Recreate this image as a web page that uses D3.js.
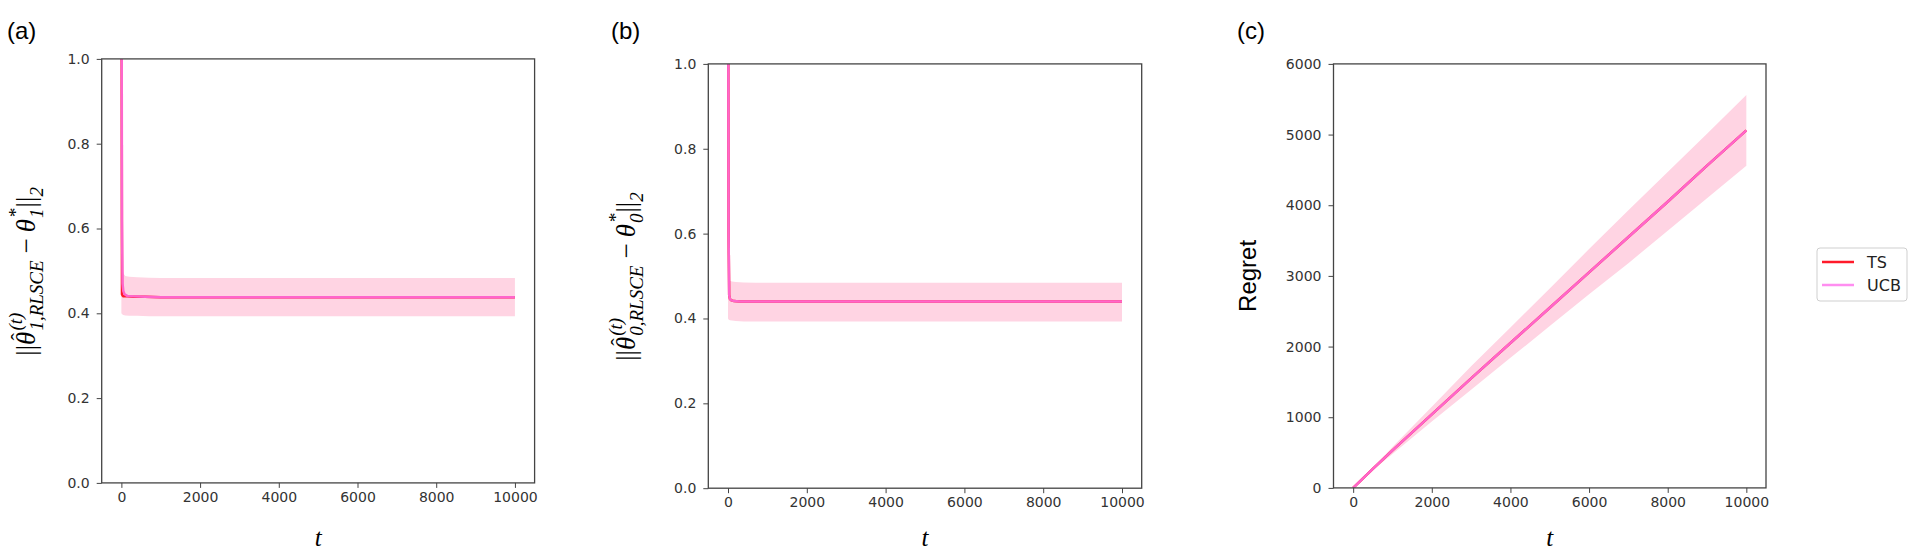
<!DOCTYPE html>
<html>
<head>
<meta charset="utf-8">
<script src="https://cdn.jsdelivr.net/npm/d3@7"></script>
<style>
  body { margin: 0; background: #fff; }
  svg { display: block; }
  .tick text { font-family: "DejaVu Sans", sans-serif; font-size: 14px; fill: #333; }
  .tick line, .domain { stroke: #444; }
</style>
</head>
<body>
<svg id="chart" width="1920" height="558"></svg>
<script>
// ---- data ----
const xTicks = [0, 2000, 4000, 6000, 8000, 10000];
const yTicksErr = [0, 0.2, 0.4, 0.6, 0.8, 1.0];
const yTicksRegret = [0, 1000, 2000, 3000, 4000, 5000, 6000];

// (a) estimation error, treatment arm 1
const tBandA = [0, 20, 50, 100, 200, 400, 700, 1000, 2000, 4000, 6000, 8000, 10000];
const hiA = [0.52, 0.51, 0.494, 0.488, 0.486, 0.485, 0.484, 0.483, 0.483, 0.483, 0.483, 0.483, 0.483];
const loA = [0.40, 0.398, 0.396, 0.395, 0.394, 0.394, 0.393, 0.393, 0.393, 0.393, 0.393, 0.393, 0.393];
const tMeanA = [0, 15, 30, 50, 80, 150, 300, 600, 1000, 3000, 6000, 10000];
const ucbA = [1.6, 0.62, 0.47, 0.452, 0.445, 0.441, 0.44, 0.439, 0.438, 0.438, 0.438, 0.438];
const tsA = [1.6, 0.445, 0.442, 0.44, 0.44, 0.44, 0.439, 0.439, 0.438, 0.438, 0.438, 0.438];

// (b) estimation error, arm 0
const tBandB = [0, 20, 50, 100, 200, 400, 700, 1000, 2000, 4000, 6000, 8000, 10000];
const hiB = [0.50, 0.492, 0.489, 0.487, 0.486, 0.485, 0.484, 0.484, 0.484, 0.484, 0.484, 0.484, 0.484];
const loB = [0.40, 0.397, 0.396, 0.395, 0.394, 0.393, 0.393, 0.393, 0.393, 0.393, 0.393, 0.393, 0.393];
const tMeanB = [0, 15, 30, 50, 80, 150, 300, 600, 1000, 3000, 6000, 10000];
const ucbB = [1.6, 0.6, 0.455, 0.446, 0.443, 0.441, 0.44, 0.44, 0.44, 0.44, 0.44, 0.44];
const tsB = [1.6, 0.6, 0.455, 0.446, 0.443, 0.441, 0.44, 0.44, 0.44, 0.44, 0.44, 0.44];

// (c) cumulative regret
const tC = [0, 500, 1000, 2000, 3000, 4000, 5000, 6000, 7000, 8000, 9000, 10000];
const ucbC = [0, 270, 530, 1040, 1550, 2050, 2550, 3050, 3550, 4050, 4560, 5060];
const tsC = [0, 270, 530, 1040, 1550, 2050, 2550, 3050, 3550, 4050, 4560, 5060];
const hiC = [0, 290, 580, 1150, 1720, 2270, 2820, 3380, 3930, 4470, 5010, 5560];
const loC = [0, 250, 480, 940, 1390, 1840, 2290, 2740, 3180, 3640, 4100, 4560];

const legendNames = ['TS', 'UCB'];
const legendColors = ['#ff1a2a', '#ff8ef0'];

const lineColor = '#ff66cc';
const bandColor = '#ffd4e3';

const svg = d3.select('#chart');

const panels = [
  { id: 'a', label: '(a)', lx: 7, box: [101.7, 534.6, 58.9, 482.9], yDom: [0, 1], yTicks: yTicksErr, fmt: d3.format('.1f'),
    tBand: tBandA, hi: hiA, lo: loA, tMean: tMeanA, ucb: ucbA, ts: tsA, ylab: { cx: 27, sub: '1,RLSCE', sub2: '1' } },
  { id: 'b', label: '(b)', lx: 611, box: [708.3, 1141.7, 63.9, 488.2], yDom: [0, 1], yTicks: yTicksErr, fmt: d3.format('.1f'),
    tBand: tBandB, hi: hiB, lo: loB, tMean: tMeanB, ucb: ucbB, ts: tsB, ylab: { cx: 627, sub: '0,RLSCE', sub2: '0' } },
  { id: 'c', label: '(c)', lx: 1237, box: [1333.5, 1766, 63.9, 487.9], yDom: [0, 6000], yTicks: yTicksRegret, fmt: d3.format('d'),
    tBand: tC, hi: hiC, lo: loC, tMean: tC, ucb: ucbC, ts: tsC, ylab: null }
];

panels.forEach(p => {
  const [x0, x1, y0, y1] = p.box;
  const x = d3.scaleLinear().domain([-500, 10500]).range([x0, x1]);
  const y = d3.scaleLinear().domain(p.yDom).range([y1, y0]);

  svg.append('clipPath').attr('id', 'clip-' + p.id)
    .append('rect').attr('x', x0).attr('y', y0).attr('width', x1 - x0).attr('height', y1 - y0);

  const plot = svg.append('g').attr('clip-path', `url(#clip-${p.id})`);

  const area = d3.area()
    .x((d, i) => x(p.tBand[i]))
    .y0((d, i) => y(p.lo[i]))
    .y1((d, i) => y(p.hi[i]));
  plot.append('path').datum(p.hi).attr('d', area).attr('fill', bandColor);

  const line = d3.line().x((d, i) => x(p.tMean[i])).y(d => y(d));
  plot.append('path').datum(p.ts).attr('d', line)
    .attr('fill', 'none').attr('stroke', legendColors[0]).attr('stroke-width', 2.5);
  plot.append('path').datum(p.ucb).attr('d', line)
    .attr('fill', 'none').attr('stroke', lineColor).attr('stroke-width', 2.5);

  // frame
  svg.append('rect').attr('x', x0).attr('y', y0).attr('width', x1 - x0).attr('height', y1 - y0)
    .attr('fill', 'none').attr('stroke', '#444').attr('stroke-width', 1.3);

  svg.append('g').attr('transform', `translate(0,${y1})`)
    .call(d3.axisBottom(x).tickValues(xTicks).tickSize(5).tickPadding(4).tickFormat(d3.format('d')))
    .call(g => g.select('.domain').remove());
  svg.append('g').attr('transform', `translate(${x0},0)`)
    .call(d3.axisLeft(y).tickValues(p.yTicks).tickSize(5).tickPadding(7).tickFormat(p.fmt))
    .call(g => g.select('.domain').remove());

  // panel letter
  svg.append('text').attr('x', p.lx).attr('y', 39)
    .attr('font-family', 'Liberation Sans, Arial, sans-serif').attr('font-size', 24).text(p.label);

  // x label
  svg.append('text').attr('x', (x(0) + x(10000)) / 2).attr('y', 546)
    .attr('text-anchor', 'middle').attr('font-family', 'Liberation Serif, serif')
    .attr('font-style', 'italic').attr('font-size', 25).text('t');

  const cy = (y0 + y1) / 2;
  if (p.ylab) {
    mathLabel(p.ylab.cx, cy, p.ylab.sub, p.ylab.sub2);
  } else {
    svg.append('text').attr('transform', `translate(1256,${cy}) rotate(-90)`)
      .attr('text-anchor', 'middle').attr('font-family', 'Liberation Sans, Arial, sans-serif')
      .attr('font-size', 24).text('Regret');
  }
});

// ||θ̂^(t)_{sub} − θ*_{sub2}||_2 written piece by piece, then rotated
function mathLabel(cx, cy, sub, sub2) {
  const base = 27, small = 19;
  const g = svg.append('g').attr('transform', `translate(${cx},${cy}) rotate(-90)`);
  const inner = g.append('g');
  let pos = 0;
  const put = (s, size, dy, italic) => {
    const t = inner.append('text').attr('x', pos).attr('y', dy)
      .attr('font-family', 'Liberation Serif, serif').attr('font-size', size)
      .attr('font-style', italic ? 'italic' : 'normal').text(s);
    return t.node().getComputedTextLength();
  };
  const stack = (sup, sb) => {
    let w1 = 0, w2 = 0;
    if (sup) w1 = put(sup, small, -13, true);
    if (sb) w2 = put(sb, small, 8, true);
    pos += Math.max(w1, w2) + 1;
  };
  pos += put('||', base, 0, false);
  const wt = put('θ', base, 0, true);
  inner.append('text').attr('x', pos + wt * 0.6).attr('y', -9).attr('text-anchor', 'middle')
    .attr('font-family', 'Liberation Serif, serif').attr('font-size', 22).text('ˆ');
  pos += wt + 1;
  stack('(t)', sub);
  pos += 6;
  pos += put('−', base, 0, false);
  pos += 6;
  pos += put('θ', base, 0, true) + 1;
  stack('*', sub2);
  pos += put('||', base, 0, false);
  stack(null, '2');
  inner.attr('transform', `translate(${-pos / 2},${base * 0.3})`);
}

// figure legend
const lg = svg.append('g').attr('transform', 'translate(1817,248)');
lg.append('rect').attr('width', 90).attr('height', 53).attr('rx', 3)
  .attr('fill', '#fff').attr('stroke', '#cfcfcf');
legendNames.forEach((n, i) => {
  const yy = 14 + i * 23;
  lg.append('line').attr('x1', 5).attr('x2', 37).attr('y1', yy).attr('y2', yy)
    .attr('stroke', legendColors[i]).attr('stroke-width', 2.5);
  lg.append('text').attr('x', 50).attr('y', yy + 6)
    .attr('font-family', 'DejaVu Sans, sans-serif').attr('font-size', 16).attr('fill', '#222').text(n);
});
</script>
</body>
</html>
